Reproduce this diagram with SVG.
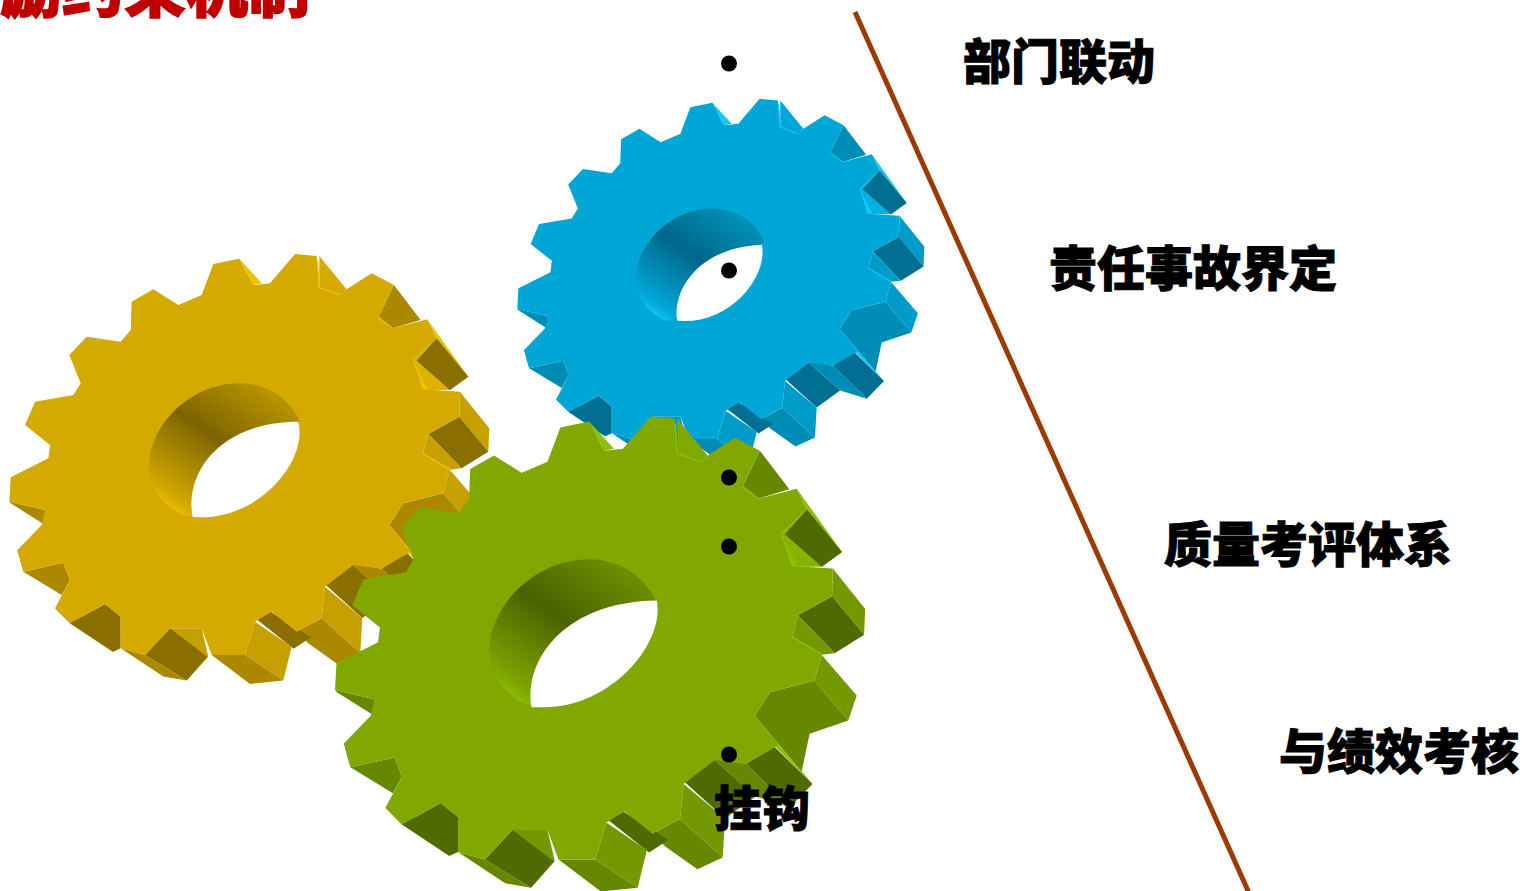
<svg xmlns="http://www.w3.org/2000/svg" width="1525" height="891" viewBox="0 0 1525 891">
<style>
.gold{--f:#d4aa00;--d:#8a6f00;--m:#ab8800;--s:#c69f00;--l:#f0c000;--h:#ddb200}
.blue{--f:#00a6d6;--d:#006f92;--m:#008db5;--s:#009cc9;--l:#12c6f7;--h:#00b2e4}
.green{--f:#80a800;--d:#4f6a00;--m:#668700;--s:#749900;--l:#8cc000;--h:#87b300}
.fa{fill:var(--f)}.da{fill:var(--d)}.mi{fill:var(--m)}.se{fill:var(--s)}.li{fill:var(--l)}.hi{fill:var(--h)}
.ln{fill:none;stroke:var(--l);stroke-width:4}
.lb{font-family:"Noto Sans CJK SC","Noto Sans",sans-serif;font-weight:900;font-size:48px;fill:#000;stroke:#000;stroke-width:1}
.dot{fill:#000}
</style>
<defs>
<linearGradient id="wallGold" gradientUnits="userSpaceOnUse" x1="480" y1="790" x2="740" y2="410"><stop offset="0" stop-color="#f0c000"/><stop offset=".1" stop-color="#d0a600"/><stop offset=".56" stop-color="#7d6400"/><stop offset="1" stop-color="#b89400"/></linearGradient>
<linearGradient id="wallBlue" gradientUnits="userSpaceOnUse" x1="480" y1="790" x2="740" y2="410"><stop offset="0" stop-color="#12c6f7"/><stop offset=".1" stop-color="#00a6d6"/><stop offset=".56" stop-color="#00678a"/><stop offset="1" stop-color="#0090b8"/></linearGradient>
<linearGradient id="wallGreen" gradientUnits="userSpaceOnUse" x1="480" y1="790" x2="740" y2="410"><stop offset="0" stop-color="#8cc000"/><stop offset=".1" stop-color="#7ca400"/><stop offset=".56" stop-color="#4a6200"/><stop offset="1" stop-color="#6c8e00"/></linearGradient>
<g id="gearBody">
<g>
<polygon class="mi" points="1182,135 1262,240 1178,265 1135,232"/>
<polygon class="fa" points="958,48 1040,148 1020,168 958,142"/>
<polygon class="li" points="1282,238 1405,410 1310,295"/>
<polygon class="hi" points="1310,295 1405,410 1350,450 1268,450 1240,360"/>
<polygon class="da" points="1310,295 1405,410 1350,450 1250,362"/>
<polygon class="se" points="1380,455 1468,565 1465,635 1378,530"/>
<polygon class="da" points="1378,530 1465,635 1385,685 1285,582"/>
<polygon class="se" points="1285,582 1270,640 1345,690 1385,685"/>
<polygon class="se" points="1350,690 1445,800 1422,868 1330,760"/>
<polygon class="mi" points="1210,790 1330,760 1422,868 1317,904 1295,1008 1168,855"/>
<polygon class="li" points="1168,855 1325,1040 1215,930"/>
<polygon class="da" points="1215,933 1325,1040 1264,1103 1145,986"/>
<polygon class="mi" points="1051,968 1145,986 1264,1103 1170,1074"/>
<polygon class="da" points="970,1028 1051,968 1170,1074 1087,1134"/>
<polygon class="se" points="975,1040 1087,1134 1081,1240 965,1135"/>
<polygon class="mi" points="890,1175 965,1135 1081,1240 1012,1272 925,1210"/>
<polygon class="da" points="757,1128 804,1110 933,1192 881,1226"/>
<polygon class="se" points="765,1145 875,1220 850,1322 735,1245"/>
<polygon class="mi" points="635,1245 735,1245 850,1322 750,1332"/>
<polygon class="se" points="510,1165 605,1165 625,1250 560,1322"/>
<polygon class="da" points="510,1165 622,1250 560,1322 435,1245"/>
<polygon class="mi" points="362,1225 435,1245 560,1322 490,1310"/>
<polygon class="mi" points="165,1105 210,1150 340,1237 300,1150"/>
<polygon class="da" points="315,1092 362,1130 362,1225 340,1235 210,1150"/>
<polygon class="mi" points="190,968 210,1020 185,1065 70,995"/>
<polygon class="se" points="52,930 70,995 120,960 90,920"/>
<polygon class="mi" points="28,785 135,810 135,855 32,790"/>
</g>
<path class="fa" d="M640,72L718,56L760,135L810,130L885,42L950,48L958,142L1022,165L1040,148L1115,100L1182,135L1135,232L1178,265L1282,238L1310,295L1240,360L1268,448L1380,455L1378,530L1285,582L1270,640L1350,690L1330,760L1210,790L1168,855L1232,935L1145,986L1060,975L975,1040L965,1135L890,1175L815,1115L765,1145L735,1245L635,1245L605,1165L510,1165L435,1245L362,1225L362,1130L315,1092L210,1150L165,1105L210,1020L190,968L70,995L52,930L125,855L135,810L28,785L32,712L145,655L150,615L75,555L105,485L220,465L242,430L208,345L260,290L362,305L392,270L395,185L460,148L535,195L605,165Z"/>
<polygon class="li" points="718,56 786,130 760,135"/>
<polyline class="ln" points="952,60 958,142 1020,165"/>
<polyline class="ln" points="1135,232 1178,265"/>
<polyline class="ln" points="1268,640 1350,688"/>
<polygon class="li" points="1240,362 1268,448 1285,450"/>
</g>
<path id="wall" d="M570,830C515,820 445,760 448,670C452,555 570,430 720,430C810,430 878,490 900,545L740,690Z"/>
</defs>
<text id="title" x="-62" y="12" font-family="'Noto Sans CJK SC','Noto Sans',sans-serif" font-weight="900" font-size="62" fill="#c00000" stroke="#c00000" stroke-width="1.6">激励约束机制</text>
<g id="gear-gold" class="gold" transform="translate(0,240) scale(.3333)"><use href="#gearBody"/><use href="#wall" fill="url(#wallGold)"/><path fill="#fff" d="M578,830C552,700 660,545 895,545C925,660 780,835 600,832Z"/></g>
<g id="gear-blue" class="blue" transform="translate(509.4,87) scale(.2827)"><use href="#gearBody"/><use href="#wall" fill="url(#wallBlue)"/><path fill="#fff" d="M593,826C575,720 670,565 893,559C915,665 790,832 612,828Z"/></g>
<g id="gear-green" class="green" transform="translate(324.7,401) scale(.3682)"><use href="#gearBody"/><use href="#wall" fill="url(#wallGreen)"/><path fill="#fff" d="M562,832C540,700 655,545 902,542C925,660 775,835 590,832Z"/></g>
<g id="connectors"><line x1="855" y1="12" x2="1249" y2="893" stroke="#9c3a00" stroke-width="5"/></g>
<g id="item-1"><circle class="dot" cx="729" cy="63.5" r="8"/><text class="lb" x="963" y="79">部门联动</text></g>
<g id="item-2"><circle class="dot" cx="729" cy="270.5" r="8"/><text class="lb" x="1049" y="286">责任事故界定</text></g>
<g id="item-3"><circle class="dot" cx="729" cy="477.5" r="8"/></g>
<g id="item-4"><circle class="dot" cx="729" cy="546.5" r="8"/><text class="lb" x="1164" y="562">质量考评体系</text></g>
<g id="item-5"><circle class="dot" cx="729" cy="754.5" r="8"/><text class="lb" x="1279" y="769">与绩效考核</text></g>
<g id="item-6"><text class="lb" x="714" y="826">挂钩</text></g>
</svg>
